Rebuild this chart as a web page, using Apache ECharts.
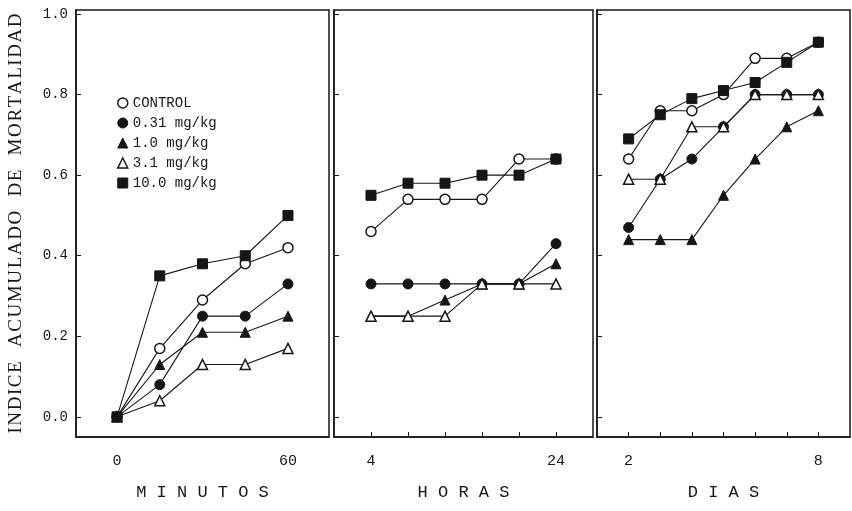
<!DOCTYPE html>
<html lang="es">
  <head>
    <meta charset="UTF-8">
    <title>Indice acumulado de mortalidad</title>
    <script src="https://cdn.jsdelivr.net/npm/echarts@6.0.0/dist/echarts.min.js"></script>
  </head>
  <body style="margin:0;background:#fff;">
    <div id="main" style="width: 852px;height:511px;"></div>
    <script type="text/javascript">
      // x values for each panel
      const minutos = [0, 15, 30, 45, 60];
      const horas = [4, 8, 12, 16, 20, 24];
      const dias = [2, 3, 4, 5, 6, 7, 8];

      const seriesNames = ['CONTROL', '0.31 mg/kg', '1.0 mg/kg', '3.1 mg/kg', '10.0 mg/kg'];
      const yTicks = [0, 0.2, 0.4, 0.6, 0.8, 1.0];

      // MINUTOS
      const controlMin = [0, 0.17, 0.29, 0.38, 0.42];
      const dose031Min = [0, 0.08, 0.25, 0.25, 0.33];
      const dose10Min = [0, 0.13, 0.21, 0.21, 0.25];
      const dose31Min = [0, 0.04, 0.13, 0.13, 0.17];
      const dose100Min = [0, 0.35, 0.38, 0.40, 0.50];

      // HORAS
      const controlHrs = [0.46, 0.54, 0.54, 0.54, 0.64, 0.64];
      const dose031Hrs = [0.33, 0.33, 0.33, 0.33, 0.33, 0.43];
      const dose10Hrs = [0.25, 0.25, 0.29, 0.33, 0.33, 0.38];
      const dose31Hrs = [0.25, 0.25, 0.25, 0.33, 0.33, 0.33];
      const dose100Hrs = [0.55, 0.58, 0.58, 0.60, 0.60, 0.64];

      // DIAS
      const controlDias = [0.64, 0.76, 0.76, 0.80, 0.89, 0.89, 0.93];
      const dose031Dias = [0.47, 0.59, 0.64, 0.72, 0.80, 0.80, 0.80];
      const dose10Dias = [0.44, 0.44, 0.44, 0.55, 0.64, 0.72, 0.76];
      const dose31Dias = [0.59, 0.59, 0.72, 0.72, 0.80, 0.80, 0.80];
      const dose100Dias = [0.69, 0.75, 0.79, 0.81, 0.83, 0.88, 0.93];

      const ink = '#161616';
      const mono = 'Liberation Mono';
      // hair spaces widen the letters a little, like the typed original
      const yTitle = 'INDICE  ACUMULADO  DE  MORTALIDAD'.split('').join('\u200A');

      // marker look for each dose
      const markers = [
        { symbol: 'circle', itemStyle: { color: '#fff', borderColor: ink, borderWidth: 1.5 } },
        { symbol: 'circle', itemStyle: { color: ink, borderColor: ink, borderWidth: 1 } },
        { symbol: 'triangle', itemStyle: { color: ink, borderColor: ink, borderWidth: 1 } },
        { symbol: 'triangle', itemStyle: { color: '#fff', borderColor: ink, borderWidth: 1.5 } },
        { symbol: 'rect', itemStyle: { color: ink, borderColor: ink, borderWidth: 1 } }
      ];

      const panels = [
        { xs: minutos, ys: [controlMin, dose031Min, dose10Min, dose31Min, dose100Min] },
        { xs: horas, ys: [controlHrs, dose031Hrs, dose10Hrs, dose31Hrs, dose100Hrs] },
        { xs: dias, ys: [controlDias, dose031Dias, dose10Dias, dose31Dias, dose100Dias] }
      ];

      let series = [];
      panels.forEach((p, g) => {
        p.ys.forEach((vals, k) => {
          series.push({
            name: seriesNames[k],
            type: 'line',
            xAxisIndex: g,
            yAxisIndex: g,
            data: p.xs.map((x, i) => [x, vals[i]]),
            symbol: markers[k].symbol,
            symbolSize: 10,
            itemStyle: markers[k].itemStyle,
            lineStyle: { color: ink, width: 1.1 },
            z: 2 + k
          });
        });
      });

      function xAxis(idx, min, max, ticks, name, showTicks) {
        return {
          type: 'value',
          gridIndex: idx,
          position: 'bottom',
          min: min,
          max: max,
          name: name,
          nameLocation: 'middle',
          nameGap: 47,
          nameTextStyle: { fontFamily: mono, fontSize: 17, color: ink },
          axisLine: { show: true, onZero: false, lineStyle: { color: ink, width: 1.5 } },
          splitLine: { show: false },
          axisTick: { show: showTicks, inside: true, length: 5, customValues: ticks, lineStyle: { color: ink } },
          axisLabel: {
            customValues: [ticks[0], ticks[ticks.length - 1]],
            margin: 17,
            fontFamily: mono,
            fontSize: 15,
            color: ink
          }
        };
      }

      function yAxis(idx, labels) {
        return {
          type: 'value',
          gridIndex: idx,
          position: 'left',
          min: -0.05,
          max: 1.01,
          name: idx === 0 ? yTitle : '',
          nameLocation: 'middle',
          nameGap: 50,
          nameTextStyle: { fontFamily: 'Liberation Serif', fontSize: 19, color: ink },
          axisLine: { show: true, onZero: false, lineStyle: { color: ink, width: 1.5 } },
          splitLine: { show: false },
          axisTick: { show: true, inside: true, length: 5, customValues: yTicks, lineStyle: { color: ink } },
          axisLabel: {
            show: labels,
            customValues: yTicks,
            formatter: v => v.toFixed(1),
            margin: 8,
            fontFamily: mono,
            fontSize: 14,
            color: ink
          }
        };
      }

      const gridStyle = { show: true, borderColor: ink, borderWidth: 1.5, backgroundColor: '#fff' };

      let options = {
        animation: false,
        backgroundColor: '#fff',
        grid: [
          Object.assign({ left: 76, top: 10, width: 253, height: 427 }, gridStyle),
          Object.assign({ left: 334, top: 10, width: 259, height: 427 }, gridStyle),
          Object.assign({ left: 597, top: 10, width: 253, height: 427 }, gridStyle)
        ],
        legend: {
          left: 112,
          top: 91,
          orient: 'vertical',
          itemGap: 6,
          itemWidth: 10,
          itemHeight: 10,
          selectedMode: false,
          textStyle: { fontFamily: mono, fontSize: 14, color: ink },
          data: seriesNames.map((n, k) => ({
            name: n,
            icon: markers[k].symbol,
            itemStyle: markers[k].itemStyle
          }))
        },
        xAxis: [
          xAxis(0, -14.4, 74.4, minutos, 'M I N U T O S', false),
          xAxis(1, 0, 28, horas, 'H O R A S', true),
          xAxis(2, 1, 9, dias, 'D I A S', true)
        ],
        yAxis: [yAxis(0, true), yAxis(1, false), yAxis(2, false)],
        series: series
      };

      let myChart = echarts.init(document.getElementById('main'));
      myChart.setOption(options);
    </script>
  </body>
</html>
